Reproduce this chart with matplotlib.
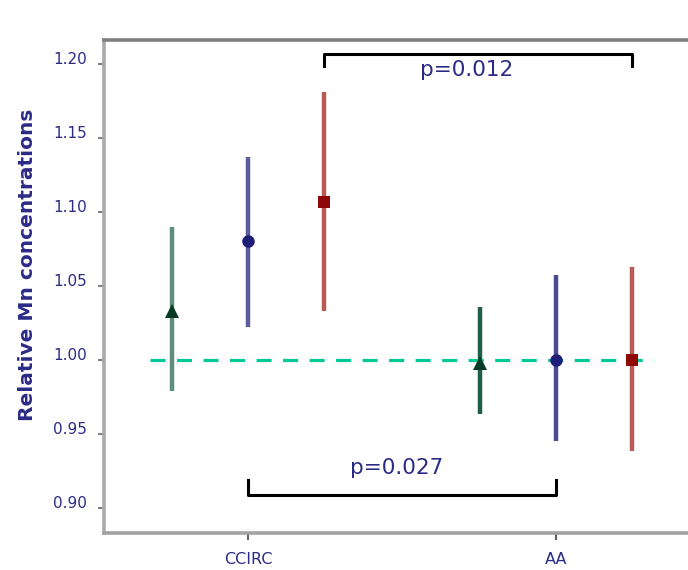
import numpy as np
import matplotlib.pyplot as plt

groups = ['CCIRC', 'AA']
group_pos = np.array([1.0, 2.0])
shift = 0.247

# mean with lower / upper limits, one value per group
green_mean = [1.033, 0.998]
green_low = [0.979, 0.963]
green_high = [1.090, 1.036]

blue_mean = [1.080, 1.000]
blue_low = [1.022, 0.945]
blue_high = [1.137, 1.057]

red_mean = [1.107, 1.000]
red_low = [1.033, 0.938]
red_high = [1.181, 1.063]

yticks = [0.90, 0.95, 1.00, 1.05, 1.10, 1.15, 1.20]
pvals = ['p=0.012', 'p=0.027']

txt = '#2b2b86'

fig = plt.figure(figsize=(6.88, 5.70), dpi=100)
ax = fig.add_axes([104 / 688, 37 / 570, 596 / 688, 493 / 570])

series = [
    (green_mean, green_low, green_high, -shift, '^', 10, ['#5e8f7c', '#1f5f45'], '#073b26'),
    (blue_mean, blue_low, blue_high, 0.0, 'o', 9, ['#5b5b9d', '#4a4a90'], '#1e1e78'),
    (red_mean, red_low, red_high, shift, 's', 8.5, ['#b85a56', '#b85a56'], '#8e0808'),
]

for mean, low, high, dx, mk, ms, bar_cols, mk_col in series:
    xs = group_pos + dx
    ax.vlines(xs, low, high, colors=bar_cols, linewidth=3.2, zorder=2)
    ax.plot(xs, mean, linestyle='none', marker=mk, markersize=ms,
            color=mk_col, markeredgewidth=0, zorder=4)

# reference level
ax.hlines(1.0, group_pos[0] - shift - 0.07, group_pos[1] + shift + 0.07,
          colors='#00c896', linewidth=2.3, linestyles=(0, (4.7, 3.6)), zorder=3)

# significance brackets
x1, x2 = group_pos[0] + shift, group_pos[1] + shift
ax.plot([x1, x1, x2, x2], [1.1988, 1.2069, 1.2069, 1.1988], color='black',
        linewidth=2.2, clip_on=False, zorder=5)
ax.text((x1 + x2) / 2 - 0.036, 1.1961, pvals[0], ha='center', va='center',
        fontsize=15.5, color=txt)

x1, x2 = group_pos[0], group_pos[1]
ax.plot([x1, x1, x2, x2], [0.9184, 0.9083, 0.9083, 0.9184], color='black',
        linewidth=2.2, zorder=5)
ax.text((x1 + x2) / 2 - 0.016, 0.9265, pvals[1], ha='center', va='center',
        fontsize=15.5, color=txt)

ax.set_xlim(0.5325, 2.4675)
ax.set_ylim(0.8828, 1.2163)
ax.set_xticks(group_pos)
ax.set_xticklabels(groups)
ax.set_yticks(yticks)
ax.set_yticklabels([f'{v:.2f}' for v in yticks])
for lbl in ax.get_yticklabels():
    lbl.set_verticalalignment('baseline')

ax.tick_params(axis='y', direction='out', length=4, width=1.5, color='#808080',
               pad=8, labelsize=11, labelcolor=txt)
ax.tick_params(axis='x', direction='out', length=5, width=1.5, color='#606060',
               pad=9, labelsize=11.5, labelcolor=txt)

for side, col in [('left', '#aaaaaa'), ('bottom', '#a2a2a2'),
                  ('top', '#808080'), ('right', '#808080')]:
    ax.spines[side].set_color(col)
    ax.spines[side].set_linewidth(2.6)

ax.set_ylabel('Relative Mn concentrations', fontsize=14.5, fontweight='bold',
              color=txt)
ax.yaxis.set_label_coords(-0.112, 0.543)

fig.savefig('out.png', dpi=100)
